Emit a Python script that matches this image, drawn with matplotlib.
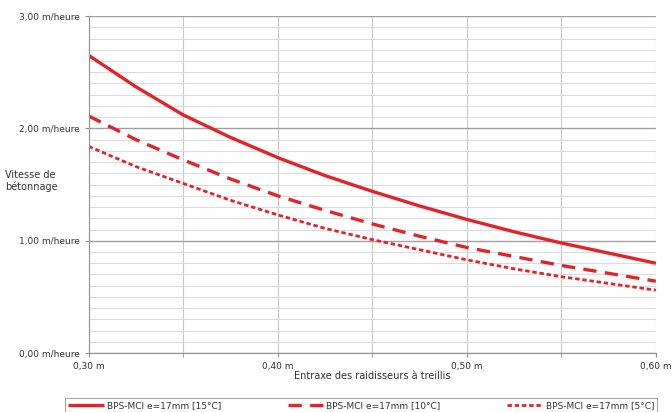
import numpy as np
import matplotlib.pyplot as plt
from matplotlib.ticker import MultipleLocator, FuncFormatter

# Entraxe des raidisseurs (m) et vitesse de bétonnage (m/heure)
entraxe = [0.300, 0.325, 0.350, 0.375, 0.400, 0.425, 0.450, 0.475, 0.500, 0.525, 0.550, 0.575, 0.600]
v_15 = [2.65, 2.37, 2.12, 1.92, 1.74, 1.58, 1.44, 1.31, 1.19, 1.08, 0.98, 0.89, 0.80]
v_10 = [2.11, 1.90, 1.72, 1.55, 1.40, 1.27, 1.15, 1.04, 0.94, 0.86, 0.78, 0.71, 0.64]
v_5 = [1.84, 1.66, 1.51, 1.36, 1.23, 1.11, 1.01, 0.92, 0.83, 0.75, 0.68, 0.62, 0.56]
labels = ["BPS-MCI e=17mm [15°C]", "BPS-MCI e=17mm [10°C]", "BPS-MCI e=17mm [5°C]"]

red = "#e3232a"
fig = plt.figure(figsize=(6.72, 4.12), dpi=100)
ax = fig.add_axes([0.132, 0.143, 0.844, 0.818])

l1, = ax.plot(entraxe, v_15, color=red, lw=2.4, solid_capstyle="butt")
l2, = ax.plot(entraxe, v_10, color=red, lw=2.4, dashes=(4, 2.5))
l3, = ax.plot(entraxe, v_5, color=red, lw=2.0, dashes=(1.6, 1.0))

ax.set_xlim(0.30, 0.60)
ax.set_ylim(0, 3.0)
ax.xaxis.set_major_locator(MultipleLocator(0.10))
ax.xaxis.set_minor_locator(MultipleLocator(0.05))
ax.yaxis.set_major_locator(MultipleLocator(1.0))
ax.yaxis.set_minor_locator(MultipleLocator(0.1))
ax.xaxis.set_major_formatter(FuncFormatter(lambda v, p: f"{v:.2f} m".replace(".", ",")))
ax.yaxis.set_major_formatter(FuncFormatter(lambda v, p: f"{v:.2f} m/heure".replace(".", ",")))

ax.grid(which="minor", axis="y", color="#dcdcdc", lw=0.8)
ax.grid(which="major", axis="y", color="#a0a0a0", lw=1.0)
ax.grid(which="both", axis="x", color="#c8c8c8", lw=0.8)
ax.set_axisbelow(True)
for s in ["top", "right"]:
    ax.spines[s].set_visible(False)
for s in ["left", "bottom"]:
    ax.spines[s].set_color("#909090")
ax.tick_params(which="major", length=3, color="#909090", labelsize=6.5, labelcolor="#333333")
ax.tick_params(axis="y", which="minor", length=0)
ax.tick_params(axis="x", which="minor", length=3, color="#909090")

ax.set_xlabel("Entraxe des raidisseurs à treillis", fontsize=7, color="#333333", labelpad=0)
fig.text(0.008, 0.56, "Vitesse de\nbétonnage", fontsize=7, color="#333333", va="center", ha="left")

leg = fig.legend([l1, l2, l3], labels, loc="lower left", bbox_to_anchor=(0.09, -0.012, 0.895, 0.05),
                 mode="expand", ncol=3, fontsize=6.5, frameon=True, fancybox=False,
                 handlelength=4, borderpad=0.3, handletextpad=0.3)
leg.get_frame().set_edgecolor("#909090")
leg.get_frame().set_linewidth(0.8)
for t in leg.get_texts():
    t.set_color("#333333")

fig.savefig("out.png", dpi=100)
